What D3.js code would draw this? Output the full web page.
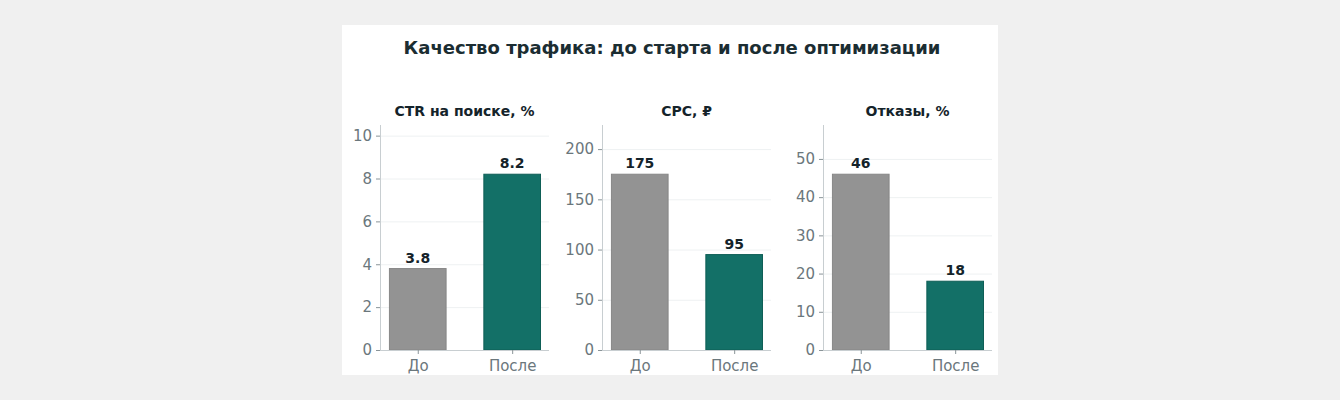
<!DOCTYPE html>
<html lang="ru">
<meta charset="utf-8">
<title>Качество трафика</title>
<style>
	body { margin: 0; background: #f0f0f0; }
	svg { display: block; }
	text { font-family: "DejaVu Sans", sans-serif; }
</style>
<body>
<div id="chart"></div>
<script src="https://cdn.jsdelivr.net/npm/d3@7"></script>
<script>
// Data
var periods = ["До", "После"];
var metricTitles = ["CTR на поиске, %", "CPC, ₽", "Отказы, %"];
var ctrValues = [3.8, 8.2];
var cpcValues = [175, 95];
var bounceValues = [46, 18];
var ctrTicks = [0, 2, 4, 6, 8, 10];
var cpcTicks = [0, 50, 100, 150, 200];
var bounceTicks = [0, 10, 20, 30, 40, 50];
var valueLabels = [["3.8", "8.2"], ["175", "95"], ["46", "18"]];

var W = 1340, H = 400;
var svg = d3.select("#chart").append("svg").attr("width", W).attr("height", H);

// White card behind the figure
svg.append("rect").attr("x", 342).attr("y", 25).attr("width", 656).attr("height", 350)
	.attr("fill", "#ffffff");

svg.append("text").attr("x", 672).attr("y", 54).attr("text-anchor", "middle")
	.attr("font-size", 18).attr("font-weight", "bold").attr("fill", "#1b2d32")
	.text("Качество трафика: до старта и после оптимизации");

var panels = [
	{ values: ctrValues, ticks: ctrTicks },
	{ values: cpcValues, ticks: cpcTicks },
	{ values: bounceValues, ticks: bounceTicks }
];
var fills = ["#939393", "#137067"];
var edges = ["#878787", "#0e5e56"];

var plotLefts = [380, 602, 823];
var plotW = 169, plotTop = 125, plotBottom = 350;

panels.forEach(function(p, i) {
	var g = svg.append("g").attr("transform", "translate(" + plotLefts[i] + ",0)");
	var x = d3.scaleLinear().domain([-0.40, 1.39]).range([0, plotW]);
	var y = d3.scaleLinear().domain([0, d3.max(p.values) * 1.28]).range([plotBottom, plotTop]);
	var bw = x(0.6) - x(0);

	// Horizontal gridlines
	g.selectAll(".grid").data(p.ticks).enter().append("line")
		.attr("x1", 0).attr("x2", plotW)
		.attr("y1", function(d) { return y(d) + 0.5; })
		.attr("y2", function(d) { return y(d) + 0.5; })
		.attr("stroke", "#eef1f2").attr("stroke-width", 1);

	// Bars
	g.selectAll(".bar").data(p.values).enter().append("rect")
		.attr("x", function(d, j) { return x(j) - bw / 2; })
		.attr("y", function(d) { return y(d); })
		.attr("width", bw)
		.attr("height", function(d) { return y(0) - y(d); })
		.attr("fill", function(d, j) { return fills[j]; })
		.attr("stroke", function(d, j) { return edges[j]; })
		.attr("stroke-width", 1);

	// Value labels
	g.selectAll(".val").data(p.values).enter().append("text")
		.attr("x", function(d, j) { return x(j); })
		.attr("y", function(d) { return y(d) - 6; })
		.attr("text-anchor", "middle").attr("font-size", 14).attr("font-weight", "bold")
		.attr("fill", "#14232a")
		.text(function(d, j) { return valueLabels[i][j]; });

	// Y axis
	var yAxis = d3.axisLeft(y).tickValues(p.ticks).tickSize(4).tickPadding(4);
	var ya = g.append("g").call(yAxis);
	ya.select(".domain").attr("stroke", "#c8ced1").attr("d", "M0.5," + plotTop + "V" + plotBottom);
	ya.selectAll(".tick line").attr("stroke", "#8a9498");
	ya.selectAll(".tick text").attr("font-size", 15).attr("fill", "#6b777c")
		.attr("font-family", "DejaVu Sans, sans-serif");

	// X axis
	var xAxis = d3.axisBottom(x).tickValues([0, 1]).tickFormat(function(d) { return periods[d]; })
		.tickSize(4).tickPadding(6);
	var xa = g.append("g").attr("transform", "translate(0," + plotBottom + ")").call(xAxis);
	xa.select(".domain").attr("stroke", "#c8ced1").attr("d", "M0,0.5H" + plotW);
	xa.selectAll(".tick line").attr("stroke", "#8a9498");
	xa.selectAll(".tick text").attr("font-size", 15).attr("fill", "#6b777c")
		.attr("font-family", "DejaVu Sans, sans-serif");

	// Subplot title
	g.append("text").attr("x", plotW / 2).attr("y", 116).attr("text-anchor", "middle")
		.attr("font-size", 14).attr("font-weight", "bold").attr("fill", "#14232a")
		.text(metricTitles[i]);
});
</script>
</body>
</html>
